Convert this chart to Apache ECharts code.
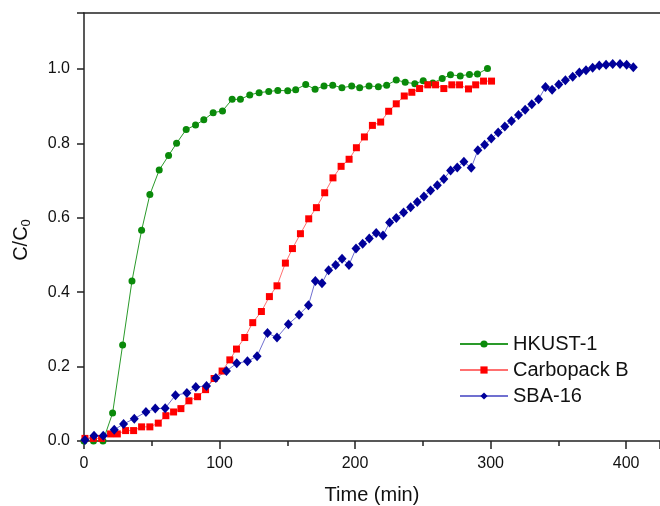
<!DOCTYPE html>
<html><head><meta charset="utf-8">
<script src="https://cdn.jsdelivr.net/npm/echarts@6/dist/echarts.min.js"></script>
<style>html,body{margin:0;padding:0;background:#fff}#c{width:660px;height:506px}</style>
</head><body><div id="c"></div>
<script>
const xTicks = [0, 100, 200, 300, 400];
const yTicks = [0.0, 0.2, 0.4, 0.6, 0.8, 1.0];
const seriesNames = ['HKUST-1', 'Carbopack B', 'SBA-16'];

const hkustX = [0, 7, 14, 21.1, 28.5, 35.4, 42.5, 48.6, 55.5, 62.4, 68.3, 75.4, 82.3, 88.4, 95.3, 102.2, 109.3, 115.4, 122.3, 129.2, 136.3, 143, 150.3, 156.2, 163.6, 170.5, 177.1, 183.5, 190.3, 197.5, 203.4, 210.3, 217.2, 223.3, 230.4, 237, 244.1, 250.3, 257.4, 264.3, 270.4, 277.6, 284.4, 290.3, 297.7];
const hkustY = [0, 0, 0, 0.075, 0.258, 0.43, 0.566, 0.662, 0.728, 0.767, 0.80, 0.837, 0.849, 0.863, 0.882, 0.887, 0.918, 0.918, 0.930, 0.936, 0.939, 0.942, 0.941, 0.944, 0.958, 0.945, 0.954, 0.956, 0.949, 0.954, 0.949, 0.954, 0.952, 0.956, 0.970, 0.964, 0.960, 0.968, 0.962, 0.974, 0.984, 0.981, 0.985, 0.986, 1.001];

const carboX = [0.7, 6.9, 13, 19.6, 24.6, 30.7, 36.6, 42.5, 48.6, 54.8, 60.4, 66.1, 71.5, 77.4, 83.8, 89.7, 96, 101.9, 107.6, 112.5, 118.6, 124.5, 130.9, 136.8, 142.4, 148.6, 153.8, 159.7, 165.8, 171.5, 177.6, 183.7, 189.7, 195.6, 201, 206.9, 212.8, 218.9, 224.8, 230.4, 236.3, 241.9, 247.6, 253.7, 259.4, 265.5, 271.4, 277.1, 283.7, 289, 294.8, 300.7];
const carboY = [0.007, 0.007, 0.007, 0.019, 0.019, 0.028, 0.028, 0.038, 0.038, 0.048, 0.068, 0.078, 0.087, 0.108, 0.119, 0.138, 0.168, 0.188, 0.218, 0.247, 0.278, 0.318, 0.348, 0.388, 0.417, 0.478, 0.517, 0.557, 0.597, 0.627, 0.667, 0.707, 0.738, 0.757, 0.788, 0.817, 0.848, 0.857, 0.886, 0.906, 0.927, 0.937, 0.947, 0.957, 0.957, 0.947, 0.957, 0.957, 0.946, 0.957, 0.967, 0.967];

const sbaX = [0.7, 7.4, 14.2, 22.3, 29.2, 37.1, 45.7, 52.6, 59.9, 67.5, 75.9, 82.5, 90.4, 97.3, 105.1, 112.7, 120.6, 127.7, 135.4, 142.4, 150.8, 158.7, 165.6, 170.7, 175.6, 180.5, 185.7, 190.4, 195.5, 200.7, 205.6, 210.5, 215.6, 220.6, 225.5, 230.4, 235.8, 241, 245.9, 250.8, 255.7, 260.7, 265.5, 270.5, 275.4, 280.3, 285.7, 290.6, 295.6, 300.5, 305.6, 310.5, 315.4, 320.6, 325.5, 330.4, 335.4, 340.5, 345.4, 350.3, 355.2, 360.6, 365.5, 370.4, 375.3, 380.2, 385.2, 390.1, 395.5, 400.4, 405.3];
const sbaY = [0.003, 0.014, 0.014, 0.030, 0.046, 0.060, 0.078, 0.087, 0.088, 0.123, 0.129, 0.145, 0.148, 0.169, 0.188, 0.209, 0.214, 0.228, 0.290, 0.278, 0.314, 0.339, 0.365, 0.430, 0.424, 0.459, 0.473, 0.490, 0.473, 0.517, 0.530, 0.544, 0.559, 0.552, 0.587, 0.599, 0.614, 0.628, 0.642, 0.657, 0.673, 0.687, 0.704, 0.727, 0.735, 0.750, 0.734, 0.781, 0.796, 0.813, 0.829, 0.845, 0.860, 0.876, 0.890, 0.905, 0.918, 0.951, 0.944, 0.958, 0.969, 0.979, 0.990, 0.996, 1.003, 1.009, 1.011, 1.013, 1.013, 1.011, 1.004];

const zip = (xs, ys) => xs.map((x, i) => [x, ys[i]]);
const FONT = 'Liberation Sans, Arial, sans-serif';
const AX = '#222';

const chart = echarts.init(document.getElementById('c'), null, {renderer: 'canvas'});
chart.setOption({
  animation: false,
  backgroundColor: '#fff',
  grid: {left: 84, right: 0, top: 13, bottom: 65, outerBoundsMode: 'none', containLabel: false},
  legend: {
    left: 454, top: 329, orient: 'vertical',
    itemWidth: 48, itemHeight: 9, itemGap: 6,
    textStyle: {fontFamily: FONT, fontSize: 20, color: '#111', lineHeight: 20},
    data: seriesNames
  },
  xAxis: [{
    type: 'value', min: 0, max: 425, interval: 100,
    name: 'Time (min)', nameLocation: 'middle', nameGap: 44,
    nameTextStyle: {fontFamily: FONT, fontSize: 20, color: '#111'},
    axisLine: {show: true, onZero: false, lineStyle: {color: AX, width: 1.5}},
    axisTick: {show: true, inside: false, length: 8, lineStyle: {color: AX, width: 1.5}},
    minorTick: {show: true, splitNumber: 2, length: 5, lineStyle: {color: AX, width: 1.5}},
    axisLabel: {fontFamily: FONT, fontSize: 16, color: '#111', margin: 15,
      formatter: v => xTicks.includes(v) ? String(v) : ''},
    splitLine: {show: false}
  }, {
    type: 'value', position: 'top', min: 0, max: 425,
    axisLine: {show: true, onZero: false, lineStyle: {color: AX, width: 1.5}},
    axisTick: {show: false}, axisLabel: {show: false}, splitLine: {show: false}
  }],
  yAxis: {
    type: 'value', min: 0, max: 1.15, interval: 0.2,
    name: '{a|C/C}{s|0}', nameLocation: 'middle', nameGap: 51,
    nameTextStyle: {fontFamily: FONT, fontSize: 20, color: '#111', padding: [0, 26, 0, 0],
      rich: {a: {fontFamily: FONT, fontSize: 20, color: '#111'}, s: {fontFamily: FONT, fontSize: 13, color: '#111', padding: [10, 0, 0, 0]}}},
    axisLine: {show: true, onZero: false, lineStyle: {color: AX, width: 1.5}},
    axisTick: {show: true, inside: false, length: 7, lineStyle: {color: AX, width: 1.5}},
    axisLabel: {fontFamily: FONT, fontSize: 16, color: '#111', margin: 14,
      formatter: v => yTicks.some(t => Math.abs(t - v) < 1e-6) ? v.toFixed(1) : ''},
    splitLine: {show: false}
  },
  series: [
    {name: seriesNames[0], type: 'line', data: zip(hkustX, hkustY), symbol: 'circle', symbolSize: 7,
     itemStyle: {color: '#0a8a0a'}, lineStyle: {color: '#2a9a2a', width: 1}},
    {name: seriesNames[1], type: 'line', data: zip(carboX, carboY), symbol: 'rect', symbolSize: 7,
     itemStyle: {color: '#ff0000'}, lineStyle: {color: '#ff7070', width: 1}},
    {name: seriesNames[2], type: 'line', data: zip(sbaX, sbaY), symbol: 'diamond', symbolSize: [9, 10],
     itemStyle: {color: '#00009a'}, lineStyle: {color: '#7070d0', width: 1}}
  ]
});
</script></body></html>
